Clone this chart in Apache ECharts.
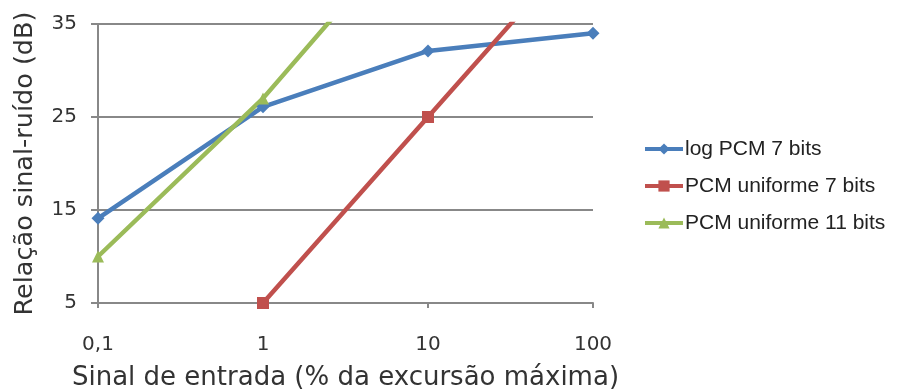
<!DOCTYPE html>
<html><head><meta charset="utf-8">
<script src="https://cdn.jsdelivr.net/npm/echarts@6/dist/echarts.min.js"></script>
<style>html,body{margin:0;padding:0;background:#fff}#c{width:897px;height:389px}</style>
</head><body><div id="c"></div>
<script>
const xValues = [0.1, 1, 10, 100];
const logPcm7 = [14.1, 26.1, 32.1, 34.0];
const pcmUni7 = [null, 5, 25, 45];
const pcmUni11 = [10, 27, 47.5, null];
const seriesNames = ['log PCM 7 bits', 'PCM uniforme 7 bits', 'PCM uniforme 11 bits'];
const yTicks = [5, 15, 25, 35];

function pairs(vals){ return xValues.map((x,i)=>[x, vals[i]]); }
const axisFont = 'DejaVu Sans';
const chart = echarts.init(document.getElementById('c'));
chart.setOption({
  animation:false,
  grid:{left:98, right:304, top:24, bottom:86, outerBoundsMode:'none', containLabel:false},
  xAxis:{type:'log', logBase:10, min:0.1, max:100,
    name:'Sinal de entrada (% da excursão máxima)', nameLocation:'middle', nameGap:62,
    nameTextStyle:{fontFamily:axisFont, fontSize:26, color:'#333'},
    axisLine:{show:true, lineStyle:{color:'#888', width:2}},
    axisTick:{show:true, length:5, lineStyle:{color:'#888', width:2}},
    splitLine:{show:false}, minorTick:{show:false},
    axisLabel:{fontFamily:axisFont, fontSize:20, color:'#333', margin:32,
      formatter:v=>String(v).replace('.',',')}
  },
  yAxis:{type:'value', min:yTicks[0], max:yTicks[yTicks.length-1], interval:10,
    name:'Relação sinal-ruído (dB)', nameLocation:'middle', nameGap:60,
    nameTextStyle:{fontFamily:axisFont, fontSize:25.5, color:'#333'},
    axisLine:{show:true, lineStyle:{color:'#888', width:2}},
    axisTick:{show:true, length:7, lineStyle:{color:'#888', width:2}},
    splitLine:{show:true, lineStyle:{color:'#888', width:2}},
    axisLabel:{fontFamily:axisFont, fontSize:20, color:'#333', margin:21}
  },
  legend:{orient:'vertical', left:643, top:138, padding:0, itemGap:15, itemWidth:38, itemHeight:14,
    lineStyle:{width:4},
    textStyle:{fontFamily:'Liberation Sans', fontSize:21, lineHeight:22, color:'#222', padding:[0,0,0,-3]},
    data:seriesNames},
  series:[
    {name:seriesNames[0], type:'line', data:pairs(logPcm7), symbol:'diamond', symbolSize:13,
      lineStyle:{width:4.5, color:'#4A7EBB'}, itemStyle:{color:'#4A7EBB'}, clip:true},
    {name:seriesNames[1], type:'line', data:pairs(pcmUni7), symbol:'rect', symbolSize:12,
      lineStyle:{width:4.5, color:'#C0504D'}, itemStyle:{color:'#C0504D'}, clip:true},
    {name:seriesNames[2], type:'line', data:pairs(pcmUni11), symbol:'triangle', symbolSize:12,
      lineStyle:{width:4.5, color:'#9BBB59'}, itemStyle:{color:'#9BBB59'}, clip:true}
  ]
});
</script></body></html>
